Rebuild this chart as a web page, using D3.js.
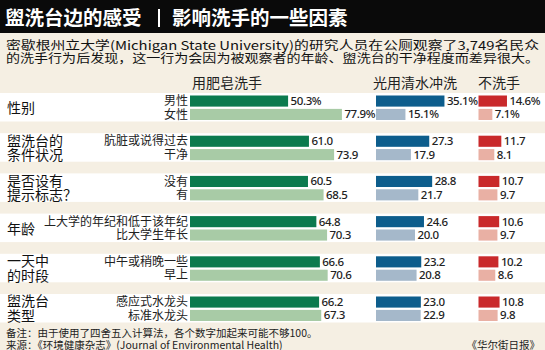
<!DOCTYPE html>
<html><head><meta charset="utf-8">
<script src="https://cdn.jsdelivr.net/npm/d3@7"></script>
<style>
body{margin:0;background:#f5efe3;}
svg{display:block;}
text{font-family:"Noto Sans CJK SC","Noto Sans",sans-serif;}
</style></head>
<body><svg id="c" width="545" height="350"></svg>
<script>
const groups = ["性别","盥洗台的\n条件状况","是否设有\n提示标志？","年龄","一天中\n的时段","盥洗台\n类型"];
const subLabels = [["男性","女性"],["肮脏或说得过去","干净"],["没有","有"],["上大学的年纪和低于该年纪","比大学生年长"],["中午或稍晚一些","早上"],["感应式水龙头","标准水龙头"]];
const soap  = [[50.3,77.9],[61.0,73.9],[60.5,68.5],[64.8,70.3],[66.6,70.6],[66.2,67.3]];
const water = [[35.1,15.1],[27.3,17.9],[28.8,21.7],[24.6,20.0],[23.2,20.8],[23.0,22.9]];
const none  = [[14.6,7.1],[11.7,8.1],[10.7,9.7],[10.6,9.7],[10.2,8.6],[10.8,9.8]];
const columns = ["用肥皂洗手","光用清水冲洗","不洗手"];
const title1 = "盥洗台边的感受", title2 = "影响洗手的一些因素";
const subtitle = ["密歇根州立大学(Michigan State University)的研究人员在公厕观察了3,749名民众","的洗手行为后发现，这一行为会因为被观察者的年龄、盥洗台的干净程度而差异很大。"];
const note = "备注：由于使用了四舍五入计算法，各个数字加起来可能不够100。";
const source = "来源：《环境健康杂志》(Journal of Environmental Health)";
const credit = "《华尔街日报》";

const svg = d3.select("#c");
const W = 545;
svg.append("rect").attr("width",W).attr("height",350).attr("fill","#f5efe3");
svg.append("rect").attr("width",W).attr("height",33).attr("fill","#0a0a0a");
svg.append("text").attr("x",5).attr("y",25).attr("fill","#fff").attr("font-size",19.5).attr("font-weight","bold").text(title1);
svg.append("rect").attr("x",158).attr("y",9).attr("width",2).attr("height",18).attr("fill","#fff");
svg.append("text").attr("x",172).attr("y",25).attr("fill","#fff").attr("font-size",19.5).attr("font-weight","bold").text(title2);
subtitle.forEach((s,i)=>{
  svg.append("text").attr("x",6).attr("y",49.5+i*13).attr("font-size",12).attr("fill","#111")
    .attr("textLength",533).attr("lengthAdjust","spacingAndGlyphs").text(s);
});

const y = d3.scaleBand().domain(d3.range(groups.length)).range([93,322.5]).paddingInner(0.291).paddingOuter(0);
const yi = d3.scaleBand().domain([0,1]).range([2.5,27]).paddingInner(0.17);
const xs = [d3.scaleLinear().domain([0,100]).range([190,385]),
            d3.scaleLinear().domain([0,100]).range([376,571]),
            d3.scaleLinear().domain([0,100]).range([478.5,673.5])];
const colorsDark = ["#0b7a4e","#0d5d8c","#c9292b"];
const colorsLight = ["#a8cba6","#a5b8ca","#e9b0a4"];
const headerX = [192,373,478];
columns.forEach((c,i)=>svg.append("text").attr("x",headerX[i]).attr("y",88).attr("font-size",14).attr("fill","#222").text(c));

const data = [soap,water,none];
const g = svg.selectAll("g.grp").data(groups).join("g").attr("class","grp")
  .attr("transform",(d,i)=>`translate(0,${y(i)})`);
g.append("rect").attr("x",0).attr("width",W).attr("height",y.bandwidth()).attr("fill","#fff");
g.each(function(name,gi){
  const gg = d3.select(this);
  const lines = name.split("\n");
  const top = lines.length===1 ? 20 : 12.5;
  lines.forEach((l,li)=>gg.append("text").attr("x",7).attr("y",top+li*14.5).attr("font-size",14).attr("fill","#111").text(l));
  subLabels[gi].forEach((s,si)=>{
    gg.append("text").attr("x",188).attr("y",yi(si)+yi.bandwidth()/2+4.2).attr("text-anchor","end")
      .attr("font-size",12).attr("fill","#222").text(s);
  });
  data.forEach((ser,ci)=>{
    ser[gi].forEach((v,si)=>{
      const x = xs[ci];
      gg.append("rect").attr("x",x(0)).attr("y",yi(si)).attr("width",x(v)-x(0)).attr("height",yi.bandwidth())
        .attr("fill", si===0?colorsDark[ci]:colorsLight[ci]);
      gg.append("text").attr("x",x(v)+2.5).attr("y",yi(si)+yi.bandwidth()/2+4)
        .attr("font-size",11.5).attr("font-weight","500").attr("letter-spacing","-0.4").attr("fill","#222")
        .style("font-family","'Liberation Sans Narrow','Noto Sans',sans-serif")
        .text(v.toFixed(1)+(gi===0?"%":""));
    });
  });
});
svg.append("text").attr("x",6).attr("y",337).attr("font-size",10.5).attr("fill","#222").text(note);
svg.append("text").attr("x",6).attr("y",348.5).attr("font-size",10.5).attr("fill","#222").text(source);
svg.append("text").attr("x",540).attr("y",348.5).attr("text-anchor","end").attr("font-size",10.5).attr("fill","#222").text(credit);
</script></body></html>
